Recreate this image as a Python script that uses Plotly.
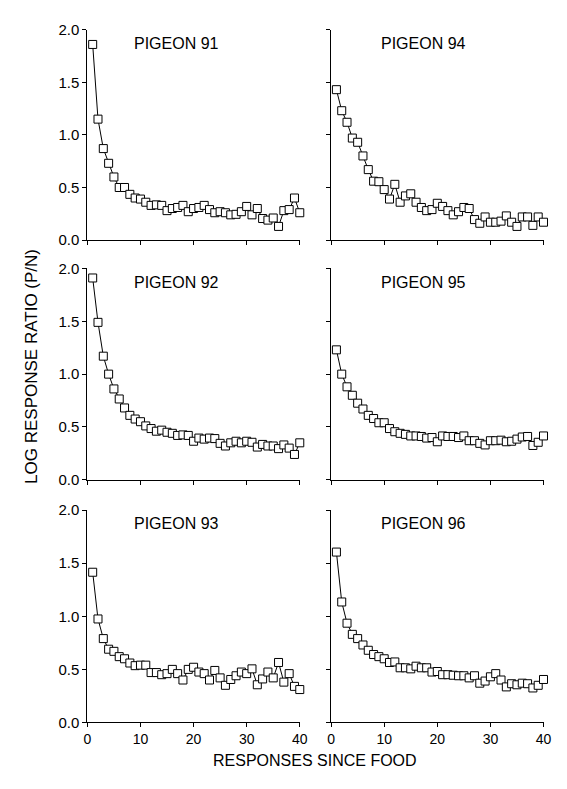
import plotly.graph_objects as go

# responses since food (x) for every panel
responses = list(range(1, 41))

# log response ratio (P/N) per pigeon
pigeon_91 = [1.86, 1.15, 0.87, 0.73, 0.60, 0.50, 0.50, 0.435, 0.40, 0.39,
             0.36, 0.33, 0.335, 0.33, 0.28, 0.30, 0.31, 0.33, 0.27, 0.30,
             0.31, 0.33, 0.29, 0.26, 0.27, 0.26, 0.24, 0.245, 0.27, 0.32,
             0.24, 0.30, 0.205, 0.19, 0.21, 0.13, 0.28, 0.29, 0.40, 0.26]
pigeon_92 = [1.91, 1.49, 1.17, 1.00, 0.86, 0.765, 0.68, 0.61, 0.575, 0.55,
             0.51, 0.485, 0.46, 0.47, 0.45, 0.44, 0.42, 0.425, 0.42, 0.365,
             0.395, 0.385, 0.395, 0.39, 0.345, 0.32, 0.35, 0.365, 0.35, 0.365,
             0.355, 0.31, 0.335, 0.32, 0.32, 0.295, 0.33, 0.30, 0.24, 0.35]
pigeon_93 = [1.415, 0.975, 0.79, 0.69, 0.67, 0.62, 0.60, 0.56, 0.535, 0.54,
             0.54, 0.47, 0.47, 0.45, 0.46, 0.50, 0.46, 0.40, 0.50, 0.52,
             0.475, 0.46, 0.40, 0.49, 0.42, 0.35, 0.405, 0.44, 0.475, 0.46,
             0.505, 0.355, 0.41, 0.475, 0.42, 0.565, 0.38, 0.46, 0.34, 0.31]
pigeon_94 = [1.43, 1.23, 1.12, 0.97, 0.93, 0.80, 0.67, 0.56, 0.555, 0.48,
             0.39, 0.53, 0.36, 0.42, 0.44, 0.36, 0.31, 0.28, 0.29, 0.35,
             0.32, 0.28, 0.24, 0.27, 0.31, 0.30, 0.195, 0.16, 0.22, 0.17,
             0.17, 0.18, 0.23, 0.17, 0.13, 0.22, 0.22, 0.14, 0.22, 0.17]
pigeon_95 = [1.23, 1.00, 0.88, 0.80, 0.725, 0.67, 0.61, 0.58, 0.54, 0.54,
             0.485, 0.455, 0.44, 0.43, 0.415, 0.415, 0.41, 0.395, 0.40, 0.36,
             0.415, 0.41, 0.41, 0.40, 0.415, 0.37, 0.37, 0.345, 0.33, 0.37,
             0.37, 0.375, 0.36, 0.365, 0.385, 0.405, 0.41, 0.325, 0.355, 0.415]
pigeon_96 = [1.605, 1.135, 0.935, 0.83, 0.79, 0.73, 0.68, 0.64, 0.62, 0.60,
             0.565, 0.57, 0.515, 0.515, 0.505, 0.53, 0.515, 0.515, 0.475, 0.48,
             0.45, 0.45, 0.445, 0.44, 0.44, 0.42, 0.44, 0.37, 0.39, 0.43,
             0.46, 0.40, 0.335, 0.365, 0.355, 0.37, 0.365, 0.325, 0.35, 0.405]

# panel order: left column 91-93, right column 94-96
panels = [
    ("PIGEON 91", pigeon_91, 0, 0),
    ("PIGEON 92", pigeon_92, 1, 0),
    ("PIGEON 93", pigeon_93, 2, 0),
    ("PIGEON 94", pigeon_94, 0, 1),
    ("PIGEON 95", pigeon_95, 1, 1),
    ("PIGEON 96", pigeon_96, 2, 1),
]

W, H = 567, 789
col_px = [(77, 294), (326, 543)]
row_px = [(13, 228), (257, 473), (504, 721)]

FONT = "Arial, Liberation Sans, Helvetica, sans-serif"

fig = go.Figure()
layout = {}
annotations = []

for i, (name, vals, r, c) in enumerate(panels):
    n = i + 1
    xa = "x" if n == 1 else f"x{n}"
    ya = "y" if n == 1 else f"y{n}"
    fig.add_trace(go.Scatter(
        x=responses, y=vals, xaxis=xa, yaxis=ya, mode="lines+markers",
        line=dict(color="black", width=1),
        marker=dict(symbol="square", size=8, color="white",
                    line=dict(color="black", width=1)),
        showlegend=False, cliponaxis=False,
    ))
    x0, x1 = col_px[c]
    y0, y1 = row_px[r]
    layout[f"xaxis{n}"] = dict(
        domain=[x0 / W, x1 / W], range=[0, 40], anchor=ya,
        tickvals=[0, 10, 20, 30, 40], showticklabels=(r == 2),
        ticks="outside", ticklen=4, tickcolor="black",
        showline=True, linecolor="black", linewidth=1,
        showgrid=False, zeroline=False,
        tickfont=dict(family=FONT, size=14, color="black"),
    )
    layout[f"yaxis{n}"] = dict(
        domain=[1 - y1 / H, 1 - y0 / H], range=[0, 2], anchor=xa,
        tickvals=[0, 0.5, 1.0, 1.5, 2.0], tickformat=".1f",
        showticklabels=(c == 0),
        ticks="outside", ticklen=4, tickcolor="black",
        showline=True, linecolor="black", linewidth=1,
        showgrid=False, zeroline=False,
        tickfont=dict(family=FONT, size=15, color="black"),
    )
    annotations.append(dict(
        text=name, xref=f"{xa} domain", yref=f"{ya} domain",
        x=0.42 if c == 0 else 0.435, y=0.935, showarrow=False,
        xanchor="center", yanchor="middle",
        font=dict(family=FONT, size=16, color="black"),
    ))

annotations.append(dict(
    text="LOG RESPONSE RATIO (P/N)", xref="paper", yref="paper",
    x=20 / W, y=1 - 357 / H, textangle=-90, showarrow=False,
    xanchor="center", yanchor="middle",
    font=dict(family=FONT, size=17, color="black"),
))
annotations.append(dict(
    text="RESPONSES SINCE FOOD", xref="paper", yref="paper",
    x=310 / W, y=1 - 760 / H, showarrow=False,
    xanchor="center", yanchor="middle",
    font=dict(family=FONT, size=16, color="black"),
))

fig.update_layout(
    width=W, height=H,
    margin=dict(l=0, r=0, t=0, b=0),
    paper_bgcolor="white", plot_bgcolor="white",
    annotations=annotations,
    **layout,
)

fig.write_html("out.html")
